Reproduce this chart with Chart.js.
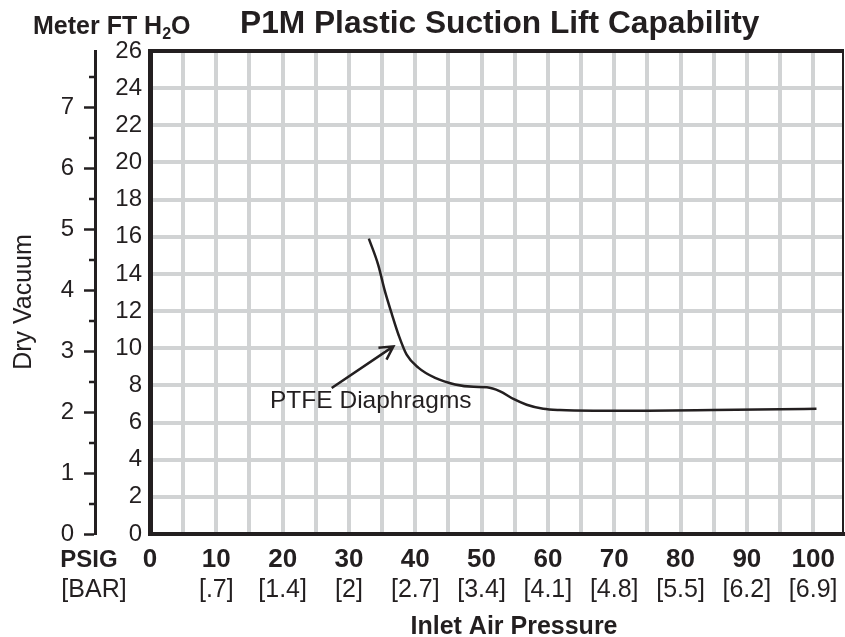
<!DOCTYPE html>
<html>
<head>
<meta charset="utf-8">
<title>P1M Plastic Suction Lift Capability</title>
<script src="https://cdn.jsdelivr.net/npm/chart.js@4.4.0/dist/chart.umd.min.js"></script>
<style>
  html, body { margin: 0; padding: 0; background: #fff; }
  #wrap { width: 845px; height: 637px; }
</style>
</head>
<body>
<div id="wrap"><canvas id="chart" width="845" height="637"></canvas></div>
<script>
// curve: inlet air pressure (psig) vs dry vacuum (ft H2O)
const psig = [33, 34.4, 35.4, 36.5, 37.5, 38.7, 40.5, 43, 46, 48.8, 50.8, 52.8, 54.8, 56.8, 59.3, 61.8, 66.9, 75, 85, 95, 100.5];
const dryVacuumFt = [15.9, 14.5, 13.1, 11.8, 10.7, 9.65, 8.94, 8.4, 8.05, 7.92, 7.9, 7.68, 7.27, 6.96, 6.74, 6.67, 6.64, 6.64, 6.67, 6.71, 6.74];

// axes
const psigTicks = [0, 5, 10, 15, 20, 25, 30, 35, 40, 45, 50, 55, 60, 65, 70, 75, 80, 85, 90, 95, 100];
const barTickValues = [10, 20, 30, 40, 50, 60, 70, 80, 90, 100];
const barTickLabels = ['[.7]', '[1.4]', '[2]', '[2.7]', '[3.4]', '[4.1]', '[4.8]', '[5.5]', '[6.2]', '[6.9]'];
const ftTicks = [0, 2, 4, 6, 8, 10, 12, 14, 16, 18, 20, 22, 24, 26];
const meterTicks = [0, 0.5, 1, 1.5, 2, 2.5, 3, 3.5, 4, 4.5, 5, 5.5, 6, 6.5, 7, 7.5];

const FT_PER_M = 3.28084;
const ink = '#231f20';
const gray = '#d1d3d4';
const FONT = "'Liberation Sans', Arial, sans-serif";

Chart.defaults.font.family = FONT;
Chart.defaults.color = ink;

// header, side labels, arrow note and the short meter ticks
const extras = {
  id: 'extras',
  afterDraw(chart) {
    const ctx = chart.ctx;
    const xs = chart.scales.x;
    const ys = chart.scales.y;
    const ms = chart.scales.yMeter;
    ctx.save();

    ctx.strokeStyle = ink;
    ctx.lineWidth = 2.5;
    ms.ticks.forEach(t => {
      if (Number.isInteger(t.value)) return;
      const py = Math.round(ms.getPixelForValue(t.value));
      ctx.beginPath();
      ctx.moveTo(ms.right - 6, py);
      ctx.lineTo(ms.right, py);
      ctx.stroke();
    });

    ctx.fillStyle = ink;
    ctx.textAlign = 'left';
    ctx.textBaseline = 'alphabetic';
    let hx = 33;
    ctx.font = 'bold 25px ' + FONT;
    ctx.fillText('Meter FT H', hx, 34);
    hx += ctx.measureText('Meter FT H').width;
    ctx.font = 'bold 16px ' + FONT;
    ctx.fillText('2', hx, 39);
    hx += ctx.measureText('2').width;
    ctx.font = 'bold 25px ' + FONT;
    ctx.fillText('O', hx, 34);

    ctx.font = 'bold 31.7px ' + FONT;
    ctx.fillText('P1M Plastic Suction Lift Capability', 240, 33);

    ctx.textAlign = 'center';
    ctx.textBaseline = 'middle';
    ctx.font = 'bold 24px ' + FONT;
    ctx.fillText('PSIG', 89, 560);
    ctx.font = '25px ' + FONT;
    ctx.fillText('[BAR]', 94, 590);

    ctx.textBaseline = 'alphabetic';
    ctx.font = 'bold 25px ' + FONT;
    ctx.fillText('Inlet Air Pressure', 514, 634);

    // side title
    ctx.save();
    ctx.translate(31, 302);
    ctx.rotate(-Math.PI / 2);
    ctx.font = '25px ' + FONT;
    ctx.fillText('Dry Vacuum', 0, 0);
    ctx.restore();

    // PTFE note with arrow
    ctx.textAlign = 'left';
    ctx.font = '24.5px ' + FONT;
    ctx.fillText('PTFE Diaphragms', xs.getPixelForValue(18.1), ys.getPixelForValue(6.8));

    const ax0 = xs.getPixelForValue(27.4), ay0 = ys.getPixelForValue(7.86);
    const ax1 = xs.getPixelForValue(36.7), ay1 = ys.getPixelForValue(10.1);
    const ang = Math.atan2(ay1 - ay0, ax1 - ax0);
    ctx.lineWidth = 2.5;
    ctx.beginPath();
    ctx.moveTo(ax0, ay0);
    ctx.lineTo(ax1, ay1);
    ctx.moveTo(ax1 - 15 * Math.cos(ang - 0.5), ay1 - 15 * Math.sin(ang - 0.5));
    ctx.lineTo(ax1, ay1);
    ctx.lineTo(ax1 - 15 * Math.cos(ang + 0.5), ay1 - 15 * Math.sin(ang + 0.5));
    ctx.stroke();

    ctx.restore();
  }
};

new Chart(document.getElementById('chart'), {
  type: 'line',
  data: {
    datasets: [{
      label: 'PTFE Diaphragms',
      data: psig.map((p, i) => ({ x: p, y: dryVacuumFt[i] })),
      borderColor: ink,
      borderWidth: 2.5,
      pointRadius: 0,
      fill: false,
      cubicInterpolationMode: 'monotone',
      xAxisID: 'x',
      yAxisID: 'y'
    }]
  },
  options: {
    responsive: false,
    animation: false,
    layout: { padding: { top: 51, right: 2, bottom: 33, left: 0 } },
    plugins: { legend: { display: false }, tooltip: { enabled: false } },
    scales: {
      x: {
        type: 'linear', position: 'bottom', weight: 0, min: 0, max: 104.5,
        afterBuildTicks: s => { s.ticks = psigTicks.map(v => ({ value: v })); },
        afterFit: s => { s.height = 38; },
        grid: { color: gray, lineWidth: 4, drawTicks: false },
        border: { color: ink, width: 4 },
        ticks: {
          autoSkip: false, maxRotation: 0, padding: 10, color: ink,
          font: { size: 26, weight: 'bold' },
          callback: v => (v % 10 === 0 ? String(v) : '')
        }
      },
      xBar: {
        type: 'linear', position: 'bottom', weight: 1, min: 0, max: 104.5,
        afterBuildTicks: s => { s.ticks = barTickValues.map(v => ({ value: v })); },
        afterFit: s => { s.height = 32; },
        grid: { display: false, drawTicks: false },
        border: { display: false },
        ticks: {
          autoSkip: false, maxRotation: 0, padding: 3, color: ink,
          font: { size: 25 },
          callback: v => barTickLabels[barTickValues.indexOf(v)] || ''
        }
      },
      xTop: {
        type: 'linear', position: 'top', min: 0, max: 104.5,
        afterFit: s => { s.height = 0; },
        grid: { display: false, drawTicks: false },
        border: { color: ink, width: 4 },
        ticks: { display: false }
      },
      y: {
        type: 'linear', position: 'left', weight: 0, min: 0, max: 26,
        afterBuildTicks: s => { s.ticks = ftTicks.map(v => ({ value: v })); },
        afterFit: s => { s.width = 55; },
        grid: { color: gray, lineWidth: 4, drawTicks: false },
        border: { color: ink, width: 5 },
        ticks: { padding: 8, color: ink, font: { size: 24 } }
      },
      yMeter: {
        type: 'linear', position: 'left', weight: 1, min: 0, max: 26 / FT_PER_M,
        afterBuildTicks: s => { s.ticks = meterTicks.map(v => ({ value: v })); },
        afterFit: s => { s.width = 95; },
        grid: {
          drawOnChartArea: false, drawTicks: true, tickLength: 11, tickWidth: 2.5,
          tickColor: c => (c.tick && Number.isInteger(c.tick.value) ? ink : 'rgba(0,0,0,0)')
        },
        border: { color: ink, width: 3 },
        ticks: {
          padding: 10, color: ink, font: { size: 24 },
          callback: v => (Number.isInteger(v) ? String(v) : '')
        }
      },
      yRight: {
        type: 'linear', position: 'right', min: 0, max: 26,
        afterFit: s => { s.width = 0; },
        grid: { display: false, drawTicks: false },
        border: { color: ink, width: 2 },
        ticks: { display: false }
      }
    }
  },
  plugins: [extras]
});
</script>
</body>
</html>
